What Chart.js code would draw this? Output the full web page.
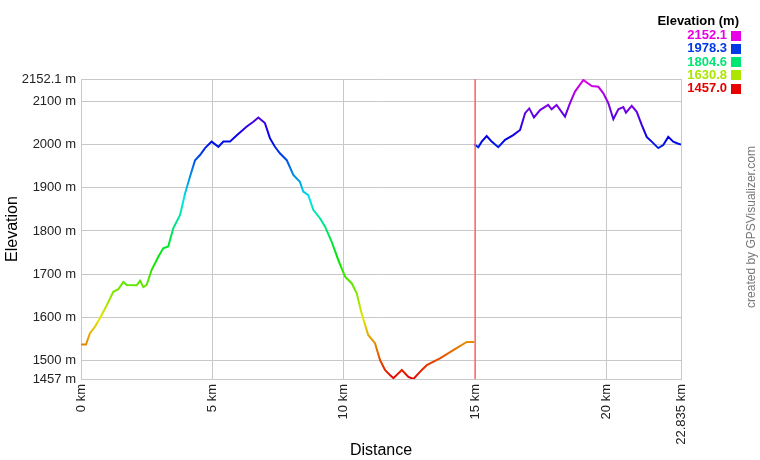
<!DOCTYPE html>
<html>
<head>
<meta charset="utf-8">
<script src="https://cdn.jsdelivr.net/npm/chart.js@4"></script>
<style>
  body { margin: 0; background: #fff; }
  canvas { display: block; }
</style>
</head>
<body>
<canvas id="chart" width="760" height="460"></canvas>
<script>
// track data (km / m)
const seg1Km = [0, 0.19, 0.34, 0.53, 0.72, 0.98, 1.23, 1.42, 1.61, 1.74, 2.12, 2.25, 2.37, 2.50, 2.69, 2.94, 3.13, 3.32, 3.51, 3.77, 3.96, 4.15, 4.34, 4.53, 4.72, 4.97, 5.23, 5.42, 5.67, 5.93, 6.31, 6.56, 6.75, 7.00, 7.19, 7.38, 7.57, 7.83, 8.08, 8.33, 8.46, 8.65, 8.84, 9.10, 9.29, 9.54, 9.79, 10.05, 10.30, 10.49, 10.68, 10.93, 11.19, 11.38, 11.57, 11.76, 11.89, 12.21, 12.46, 12.65, 12.97, 13.16, 13.66, 14.17, 14.68, 14.97];
const seg1Elev = [1537, 1537, 1563, 1578, 1598, 1628, 1659, 1665, 1682, 1675, 1674, 1685, 1670, 1675, 1710, 1740, 1760, 1764, 1806, 1837, 1887, 1926, 1964, 1976, 1992, 2007, 1995, 2007, 2007, 2022, 2042, 2053, 2063, 2050, 2015, 1995, 1980, 1964, 1930, 1914, 1891, 1883, 1849, 1829, 1810, 1775, 1733, 1694, 1679, 1656, 1609, 1559, 1540, 1501, 1478, 1466, 1459, 1478, 1462, 1457, 1478, 1489, 1505, 1524, 1543, 1543];
const seg2Km = [14.97, 15.12, 15.25, 15.44, 15.63, 15.88, 16.14, 16.45, 16.71, 16.90, 17.06, 17.24, 17.47, 17.78, 17.91, 18.10, 18.42, 18.61, 18.80, 19.12, 19.25, 19.44, 19.69, 19.88, 20.07, 20.26, 20.45, 20.64, 20.74, 20.96, 21.15, 21.34, 21.53, 21.72, 21.97, 22.16, 22.35, 22.54, 22.73, 22.835];
const seg2Elev = [2001, 1994, 2007, 2020, 2007, 1994, 2011, 2022, 2034, 2073, 2084, 2063, 2080, 2092, 2082, 2092, 2065, 2096, 2123, 2150, 2144, 2136, 2134, 2119, 2096, 2059, 2082, 2087, 2074, 2090, 2076, 2046, 2018, 2007, 1992, 1999, 2018, 2007, 2002, 2000];

const xTicks = [0, 5, 10, 15, 20, 22.835];
const yTicks = [1457, 1500, 1600, 1700, 1800, 1900, 2000, 2100, 2152.1];
const legendValues = [2152.1, 1978.3, 1804.6, 1630.8, 1457.0];
const splitKm = 15;

const ELEV_MIN = 1457, ELEV_MAX = 2152.1;
const FONT = 'Liberation Sans, Arial, sans-serif';

function elevColor(v) {
    const t = (v - ELEV_MIN) / (ELEV_MAX - ELEV_MIN);
    return `hsl(${Math.round(300 * t)}, 100%, 45%)`;
}

// vertical gradient so the line colour follows elevation pixel by pixel
function lineGradient(ctx) {
    const chart = ctx.chart;
    const area = chart.chartArea;
    if (!area) return '#000';
    const y = chart.scales.y;
    const g = chart.ctx.createLinearGradient(0, y.getPixelForValue(ELEV_MIN), 0, y.getPixelForValue(ELEV_MAX));
    for (let i = 0; i <= 10; i++) {
        g.addColorStop(i / 10, `hsl(${30 * i}, 100%, 45%)`);
    }
    return g;
}

const toPoints = (xs, ys) => xs.map((x, i) => ({ x, y: ys[i] }));

const extras = {
    id: 'extras',
    beforeDraw(chart) {
        const c = chart.ctx;
        c.save();
        c.fillStyle = '#fff';
        c.fillRect(0, 0, chart.width, chart.height);
        c.restore();
    },
    afterDraw(chart) {
        const c = chart.ctx;
        c.save();
        // colour key
        c.textAlign = 'right';
        c.textBaseline = 'middle';
        c.font = `bold 13px ${FONT}`;
        c.fillStyle = '#000';
        c.fillText('Elevation (m)', 739, 21);
        legendValues.forEach((v, i) => {
            const cy = 35.5 + i * 13.3;
            c.fillStyle = elevColor(v);
            c.fillText(v.toFixed(1), 727, cy);
            c.fillRect(731, Math.round(cy - 5), 10, 10);
        });
        // credit
        c.translate(752, 227);
        c.rotate(-Math.PI / 2);
        c.textAlign = 'center';
        c.font = `12px ${FONT}`;
        c.fillStyle = '#777';
        c.fillText('created by GPSVisualizer.com', 0, 0);
        c.restore();
    },
};

const lineStyle = {
    borderColor: lineGradient,
    borderWidth: 2,
    pointRadius: 0,
    tension: 0,
    fill: false,
};

new Chart(document.getElementById('chart'), {
    type: 'line',
    data: {
        datasets: [
            { data: toPoints(seg1Km, seg1Elev), ...lineStyle },
            { data: toPoints(seg2Km, seg2Elev), ...lineStyle },
            // split marker between the two track parts
            {
                data: [{ x: splitKm, y: ELEV_MIN }, { x: splitKm, y: ELEV_MAX }],
                borderColor: 'rgb(255, 100, 100)',
                borderWidth: 1.5,
                pointRadius: 0,
                order: -1,
            },
        ],
    },
    options: {
        responsive: false,
        animation: false,
        devicePixelRatio: 1,
        layout: { padding: { left: 0, top: 79, right: 79, bottom: 0 } },
        plugins: { legend: { display: false }, tooltip: { enabled: false } },
        scales: {
            x: {
                type: 'linear',
                min: 0,
                max: 22.835,
                afterBuildTicks: (s) => { s.ticks = xTicks.map(v => ({ value: v })); },
                afterFit: (s) => { s.height = 81; },
                grid: { color: '#c8c8c8', drawTicks: false },
                border: { color: '#c8c8c8' },
                ticks: {
                    autoSkip: false,
                    minRotation: 90,
                    maxRotation: 90,
                    padding: 5,
                    color: '#222',
                    font: { family: FONT, size: 13 },
                    callback: (v) => `${v} km`,
                },
                title: {
                    display: true,
                    text: 'Distance',
                    color: '#000',
                    padding: { top: 0, bottom: 0 },
                    font: { family: FONT, size: 16 },
                },
            },
            y: {
                min: ELEV_MIN,
                max: ELEV_MAX,
                afterBuildTicks: (s) => { s.ticks = yTicks.map(v => ({ value: v })); },
                afterFit: (s) => { s.width = 81; },
                grid: { color: '#c8c8c8', drawTicks: false },
                border: { color: '#c8c8c8' },
                ticks: {
                    padding: 5,
                    color: '#222',
                    font: { family: FONT, size: 13 },
                    callback: (v) => `${v} m`,
                },
                title: {
                    display: true,
                    text: 'Elevation',
                    color: '#000',
                    padding: { top: 3, bottom: 0 },
                    font: { family: FONT, size: 16 },
                },
            },
        },
    },
    plugins: [extras],
});
</script>
</body>
</html>
